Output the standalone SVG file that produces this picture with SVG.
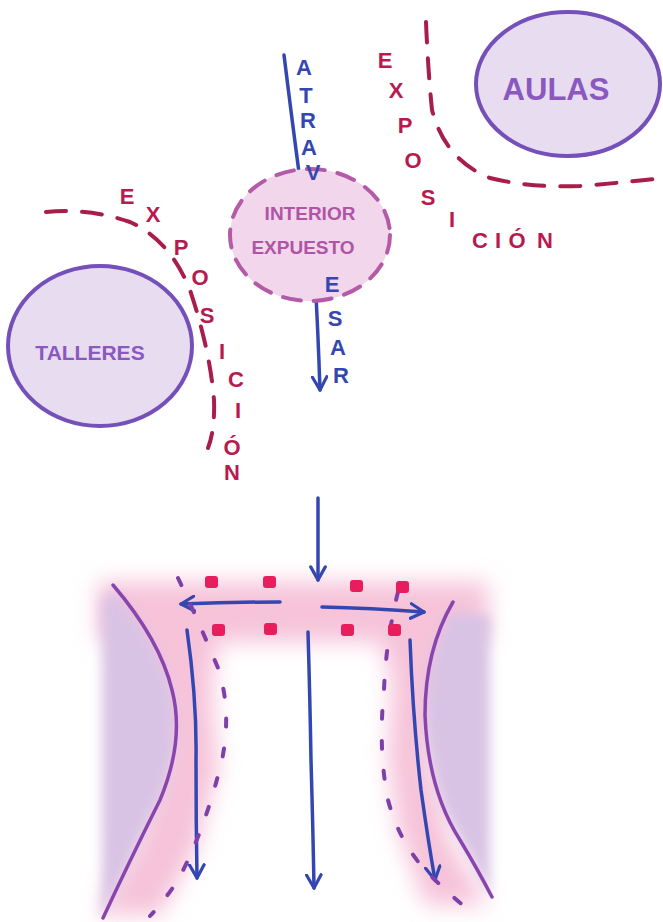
<svg xmlns="http://www.w3.org/2000/svg" width="663" height="922" viewBox="0 0 663 922">
<defs>
<style>
.lbl{font-family:"Liberation Sans","DejaVu Sans",sans-serif;font-weight:bold;}
.exp{fill:#b81a50;font-size:22px;text-anchor:middle;}
.blu{fill:#3447b0;font-size:22px;text-anchor:middle;}
.pur{fill:#8a58bf;}
.dash{fill:none;stroke:#a81d4a;stroke-width:4;stroke-linecap:round;stroke-dasharray:20 16;}
.arrow{fill:none;stroke:#3447b0;stroke-width:3.5;stroke-linecap:round;}
.wall{fill:none;stroke:#8a44ad;stroke-width:3.5;stroke-linecap:round;}
.dot{fill:none;stroke:#7e3fa8;stroke-width:4;stroke-linecap:round;stroke-dasharray:8 22;}
.sq{fill:#e81d5e;}
</style>
<marker id="ah" viewBox="0 0 12 12" refX="10" refY="6" markerWidth="5" markerHeight="5" orient="auto" markerUnits="strokeWidth">
<path d="M1,1 L10,6 L1,11" fill="none" stroke="#3447b0" stroke-width="2.2" stroke-linecap="round" stroke-linejoin="round"/>
</marker>
<filter id="blur" x="-30%" y="-30%" width="160%" height="160%"><feGaussianBlur stdDeviation="11"/></filter>
<filter id="blur2" x="-30%" y="-30%" width="160%" height="160%"><feGaussianBlur stdDeviation="6"/></filter>
</defs>
<rect width="663" height="922" fill="#ffffff"/>

<!-- bottom glow -->
<g id="glow">
<path filter="url(#blur)" d="M98,582 L488,582 L488,640 L468,640 L440,690 L430,760 L450,840 L488,905 L425,905 L398,830 L388,760 L392,680 L380,642 L218,642 L212,690 L218,770 L196,850 L160,915 L98,915 L138,840 L165,760 L160,690 L125,642 L98,642 Z" fill="#f6c3d9"/>
<path filter="url(#blur2)" d="M102,600 L102,918 L103,918 Q130,860 160,800 Q185,740 172,690 Q160,640 113,590 Z" fill="#d9c3e4"/>
<path filter="url(#blur2)" d="M490,615 L490,897 Q478,870 460,840 Q428,790 425,715 Q425,655 450,612 Z" fill="#d9c3e4"/>
</g>

<g id="connectors">
<!-- top arrow ATRAVESAR -->
<path class="arrow" d="M284,55 Q292,120 300,180"/>
<path class="arrow" d="M315,278 Q318,330 320,390" marker-end="url(#ah)"/>
<!-- down arrow to bottom section -->
<path class="arrow" d="M318,498 L318,580" marker-end="url(#ah)"/>
<!-- horizontal arrows -->
<path class="arrow" d="M280,602 Q230,602 181,604" marker-end="url(#ah)"/>
<path class="arrow" d="M322,607 Q370,608 424,612" marker-end="url(#ah)"/>
<!-- vertical arrows -->
<path class="arrow" d="M187,630 Q197,700 196,760 Q196,820 197,878" marker-end="url(#ah)"/>
<path class="arrow" d="M308,632 Q310,700 311,760 Q313,830 314,888" marker-end="url(#ah)"/>
<path class="arrow" d="M410,640 Q413,720 421,790 Q428,840 435,880" marker-end="url(#ah)"/>
</g>

<g id="walls">
<path class="wall" d="M113,585 Q160,640 172,690 Q185,740 160,800 Q130,860 103,918"/>
<path class="wall" d="M453,602 Q425,650 425,715 Q428,790 460,840 Q478,870 492,897"/>
<path class="dot" d="M178,578 Q198,620 218,668 Q232,710 222,760 Q205,830 178,880 Q165,900 150,916"/>
<path class="dot" d="M398,592 Q386,640 384,690 Q378,750 388,800 Q400,845 430,875 Q455,900 477,916"/>
</g>

<g id="markers">
<rect class="sq" x="205" y="576" width="13" height="12" rx="3"/>
<rect class="sq" x="263" y="576" width="13" height="12" rx="3"/>
<rect class="sq" x="350" y="580" width="13" height="12" rx="3"/>
<rect class="sq" x="396" y="581" width="13" height="12" rx="3"/>
<rect class="sq" x="212" y="624" width="13" height="12" rx="3"/>
<rect class="sq" x="264" y="623" width="13" height="12" rx="3"/>
<rect class="sq" x="341" y="624" width="13" height="12" rx="3"/>
<rect class="sq" x="388" y="624" width="13" height="12" rx="3"/>
</g>

<g id="aulas">
<ellipse cx="568" cy="84" rx="92" ry="72" fill="#e8dcf0" stroke="#7450b8" stroke-width="4"/>
<text class="lbl pur" x="556" y="100" font-size="31" text-anchor="middle">AULAS</text>
</g>

<g id="exposicion-aulas">
<path class="dash" d="M426,22 Q428,70 432,110 Q445,160 490,178 Q530,188 580,186 Q630,182 663,178"/>
<text class="lbl exp" x="385" y="68">E</text>
<text class="lbl exp" x="396" y="98">X</text>
<text class="lbl exp" x="405" y="133">P</text>
<text class="lbl exp" x="413" y="168">O</text>
<text class="lbl exp" x="428" y="205">S</text>
<text class="lbl exp" x="452" y="227">I</text>
<text class="lbl exp" x="480" y="248">C</text>
<text class="lbl exp" x="498" y="248">I</text>
<text class="lbl exp" x="517" y="248">Ó</text>
<text class="lbl exp" x="545" y="248">N</text>
</g>

<g id="interior">
<ellipse cx="310" cy="235" rx="80" ry="66" fill="#f1d6ec" stroke="#b45ba7" stroke-width="4" stroke-dasharray="18 13" stroke-linecap="round"/>
<text class="lbl" x="310" y="220" font-size="19" fill="#b054a5" text-anchor="middle">INTERIOR</text>
<text class="lbl" x="303" y="254" font-size="19" fill="#b054a5" text-anchor="middle">EXPUESTO</text>
</g>

<g id="atravesar">
<text class="lbl blu" x="304" y="75">A</text>
<text class="lbl blu" x="306" y="103">T</text>
<text class="lbl blu" x="308" y="128">R</text>
<text class="lbl blu" x="309" y="155">A</text>
<text class="lbl blu" x="313" y="180">V</text>
<text class="lbl blu" x="332" y="292">E</text>
<text class="lbl blu" x="335" y="326">S</text>
<text class="lbl blu" x="338" y="355">A</text>
<text class="lbl blu" x="341" y="383">R</text>
</g>

<g id="talleres">
<ellipse cx="100" cy="346" rx="92" ry="80" fill="#e8dcf0" stroke="#7450b8" stroke-width="4"/>
<text class="lbl pur" x="90" y="360" font-size="21" text-anchor="middle">TALLERES</text>
</g>

<g id="exposicion-talleres">
<path class="dash" d="M46,212 Q90,208 130,222 Q170,240 190,290 Q210,350 214,400 Q215,430 208,448"/>
<text class="lbl exp" x="127" y="204">E</text>
<text class="lbl exp" x="153" y="222">X</text>
<text class="lbl exp" x="181" y="255">P</text>
<text class="lbl exp" x="200" y="285">O</text>
<text class="lbl exp" x="207" y="323">S</text>
<text class="lbl exp" x="222" y="359">I</text>
<text class="lbl exp" x="236" y="387">C</text>
<text class="lbl exp" x="238" y="418">I</text>
<text class="lbl exp" x="232" y="455">Ó</text>
<text class="lbl exp" x="232" y="480">N</text>
</g>
</svg>
